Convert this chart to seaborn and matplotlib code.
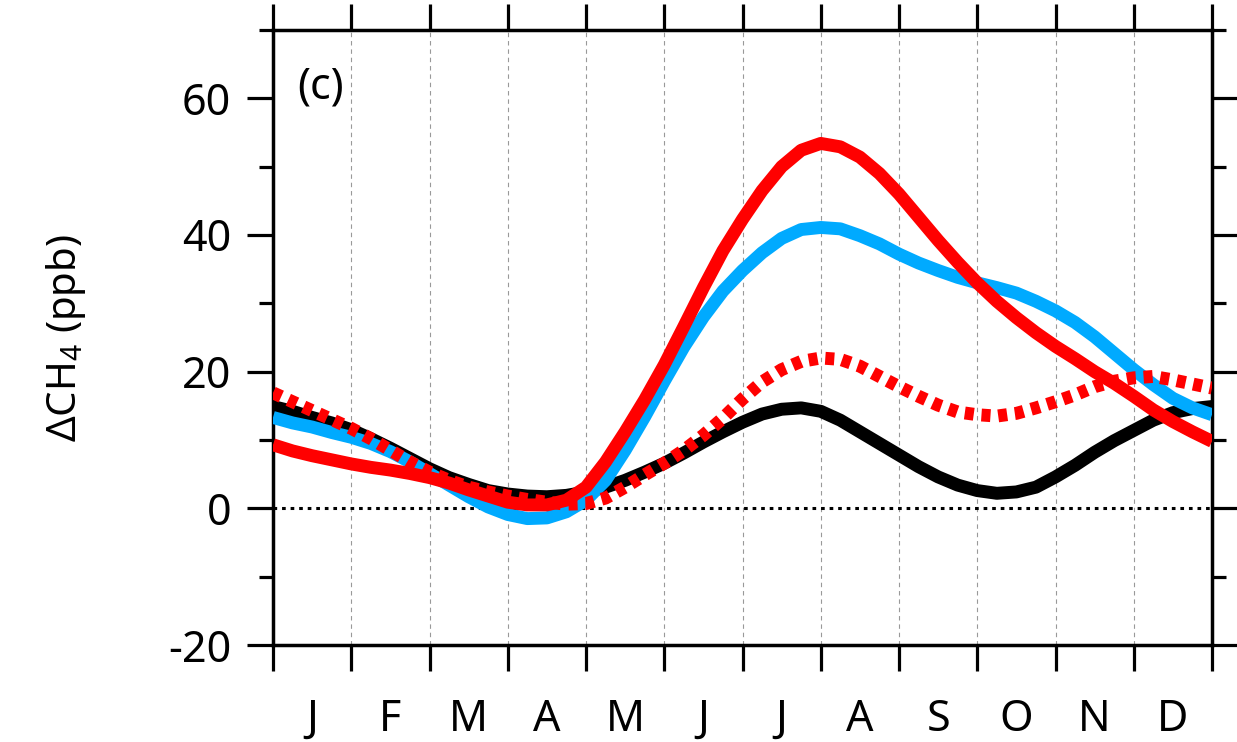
import numpy as np
import pandas as pd
import matplotlib
matplotlib.use('Agg')
import matplotlib.pyplot as plt
import seaborn as sns
from matplotlib.ticker import FixedLocator, MultipleLocator

# quarter-month positions (0 = start of Jan, 12 = end of Dec)
months_x = [0.0, 0.25, 0.5, 0.75, 1.0, 1.25, 1.5, 1.75, 2.0, 2.25, 2.5, 2.75,
            3.0, 3.25, 3.5, 3.75, 4.0, 4.25, 4.5, 4.75, 5.0, 5.25, 5.5, 5.75,
            6.0, 6.25, 6.5, 6.75, 7.0, 7.25, 7.5, 7.75, 8.0, 8.25, 8.5, 8.75,
            9.0, 9.25, 9.5, 9.75, 10.0, 10.25, 10.5, 10.75, 11.0, 11.25, 11.5, 11.75,
            12.0]

black_vals = [14.9, 14.2, 13.3, 12.5, 11.5, 10.2, 8.8, 7.3, 5.8, 4.5, 3.5, 2.6,
              2.1, 1.8, 1.7, 1.9, 2.4, 3.1, 4.1, 5.3, 6.6, 8.1, 9.7, 11.2,
              12.6, 13.8, 14.5, 14.7, 14.2, 12.9, 11.2, 9.5, 7.8, 6.1, 4.6, 3.4,
              2.6, 2.2, 2.4, 3.1, 4.6, 6.3, 8.2, 9.9, 11.4, 12.9, 14.0, 14.6,
              14.9]
blue_vals = [13.3, 12.5, 11.9, 11.1, 10.4, 9.5, 8.3, 6.8, 5.1, 3.4, 1.7, 0.2,
             -0.9, -1.5, -1.4, -0.5, 1.2, 4.1, 8.5, 13.4, 18.6, 23.6, 28.0, 31.8,
             34.8, 37.4, 39.5, 40.8, 41.1, 40.9, 39.9, 38.7, 37.2, 35.9, 34.8, 33.8,
             33.0, 32.3, 31.5, 30.3, 28.9, 27.2, 25.1, 22.7, 20.3, 18.1, 16.1, 14.7,
             13.7]
red_vals = [9.3, 8.4, 7.7, 7.1, 6.5, 6.0, 5.6, 5.1, 4.5, 3.7, 2.7, 1.8,
            0.9, 0.5, 0.5, 1.2, 3.1, 6.8, 11.2, 15.9, 21.0, 26.6, 32.3, 37.7,
            42.3, 46.5, 50.0, 52.4, 53.4, 52.9, 51.4, 49.0, 46.0, 42.6, 39.2, 36.0,
            33.0, 30.3, 27.9, 25.7, 23.7, 21.9, 20.0, 18.3, 16.4, 14.4, 12.7, 11.2,
            9.8]
red_dot_vals = [16.9, 15.6, 14.3, 13.0, 11.7, 10.2, 8.5, 6.8, 5.3, 4.1, 3.1, 2.4,
                1.8, 1.3, 0.9, 0.6, 0.7, 1.5, 3.1, 4.9, 6.6, 8.5, 10.7, 13.2,
                16.0, 18.5, 20.3, 21.5, 22.0, 21.8, 20.8, 19.3, 17.8, 16.4, 15.1, 14.1,
                13.7, 13.5, 13.9, 14.7, 15.6, 16.6, 17.8, 18.6, 19.1, 19.3, 18.8, 18.2,
                17.6]

month_labels = ['J', 'F', 'M', 'A', 'M', 'J', 'J', 'A', 'S', 'O', 'N', 'D']

sns.set_style('ticks', {'axes.edgecolor': 'black', 'xtick.color': 'black',
                        'ytick.color': 'black', 'text.color': 'black',
                        'axes.labelcolor': 'black'})
plt.rcParams['font.family'] = ['Noto Sans', 'DejaVu Sans']
plt.rcParams['mathtext.fontset'] = 'custom'
plt.rcParams['mathtext.rm'] = 'Noto Sans'
plt.rcParams['axes.unicode_minus'] = False

df = pd.DataFrame({'x': months_x, 'black': black_vals, 'blue': blue_vals,
                   'red': red_vals, 'red_dot': red_dot_vals})

fig = plt.figure(figsize=(12.37, 7.42), dpi=100)
ax = fig.add_axes([0.2207, 0.1307, 0.7591, 0.8289])

# zero line and month grid
ax.axhline(0, color='black', lw=2.2, linestyle=(0, (1.2, 1.6)), zorder=1)
ax.xaxis.grid(True, which='major', color='#999999', lw=0.8, linestyle=(0, (4, 3.5)))
ax.set_axisbelow(True)

lw = 9.3
sns.lineplot(data=df, x='x', y='black', ax=ax, color='black', lw=lw, zorder=2,
             solid_capstyle='butt', solid_joinstyle='round')
sns.lineplot(data=df, x='x', y='blue', ax=ax, color='#00AAFF', lw=lw, zorder=3,
             solid_capstyle='butt', solid_joinstyle='round')
sns.lineplot(data=df, x='x', y='red_dot', ax=ax, color='#FF0000', lw=lw, zorder=4,
             linestyle=(0, (0.7, 0.6)), dash_capstyle='butt')
sns.lineplot(data=df, x='x', y='red', ax=ax, color='#FF0000', lw=lw, zorder=5,
             solid_capstyle='butt', solid_joinstyle='round')

ax.set_xlim(0, 12)
ax.set_ylim(-20, 70)

# x: ticks at month boundaries, labels at month centres
ax.xaxis.set_major_locator(FixedLocator(np.arange(0, 13)))
ax.xaxis.set_minor_locator(FixedLocator(np.arange(0.5, 12, 1.0)))
ax.xaxis.set_major_formatter(plt.NullFormatter())
ax.xaxis.set_minor_formatter(plt.FixedFormatter(month_labels))
ax.tick_params(axis='x', which='major', direction='out', length=19, width=2.3,
               top=True, bottom=True, color='black')
ax.tick_params(axis='x', which='minor', length=0, pad=38, labelsize=31,
               top=False, bottom=True, labelcolor='black')

# y ticks
ax.yaxis.set_major_locator(FixedLocator([-20, 0, 20, 40, 60]))
ax.yaxis.set_minor_locator(MultipleLocator(10))
ax.tick_params(axis='y', which='major', direction='out', length=19, width=2.3,
               left=True, right=True, labelsize=31, pad=11, color='black',
               labelcolor='black')
ax.tick_params(axis='y', which='minor', direction='out', length=10, width=2.3,
               left=True, right=True, color='black')

for side in ['left', 'right', 'top', 'bottom']:
    ax.spines[side].set_visible(True)
    ax.spines[side].set_linewidth(2.5)
    ax.spines[side].set_color('black')

ax.set_xlabel('')
ax.set_ylabel('ΔCH$_4$ (ppb)', fontsize=29, color='black')
ax.yaxis.set_label_coords(-0.197, 0.5)

ax.text(0.026, 0.906, '(c)', transform=ax.transAxes, fontsize=31,
        ha='left', va='center', color='black')

fig.savefig('out.png', dpi=100)
